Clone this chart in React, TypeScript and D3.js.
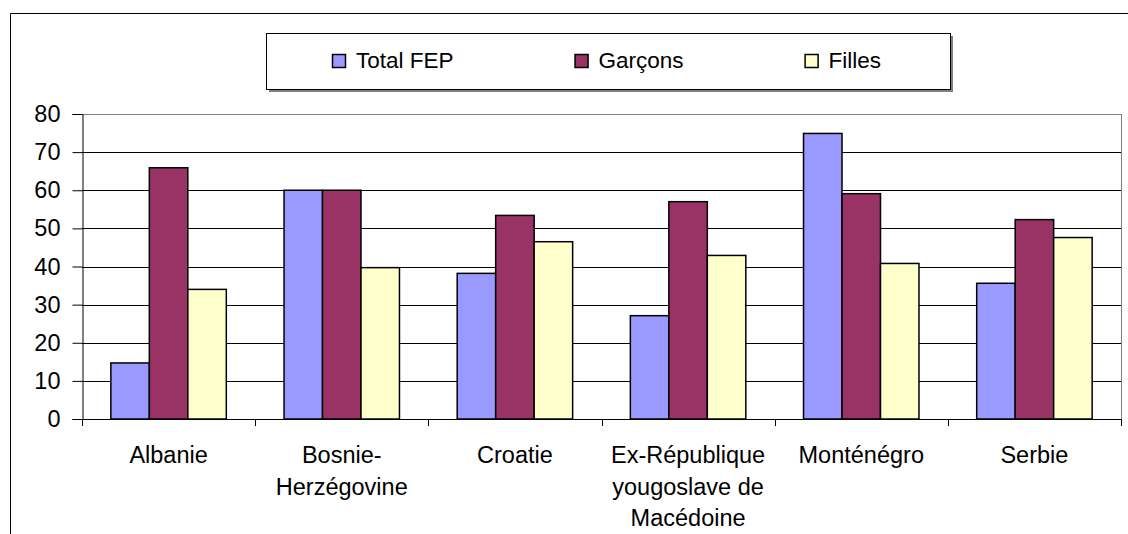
import React, { useEffect, useRef } from "react"
import * as d3 from "d3"

const categories = [
  "Albanie",
  "Bosnie-\nHerzégovine",
  "Croatie",
  "Ex-République\nyougoslave de\nMacédoine",
  "Monténégro",
  "Serbie",
]
const seriesNames = ["Total FEP", "Garçons", "Filles"]
const totalFep = [14.7, 60, 38.2, 27.1, 74.9, 35.6]
const garcons = [65.9, 60, 53.4, 57.0, 59.1, 52.3]
const filles = [34.0, 39.7, 46.5, 42.9, 40.8, 47.6]
const yTicks = [0, 10, 20, 30, 40, 50, 60, 70, 80]
const colors = ["#9999FF", "#993366", "#FFFFCC"]

const W = 1128
const H = 534
const FONT = "'Liberation Sans', Arial, sans-serif"
const FS = 23.5

export default function App() {
  const ref = useRef<SVGSVGElement>(null)

  useEffect(() => {
    const svg = d3.select(ref.current)
    svg.selectAll("*").remove()

    const margin = { top: 114, right: W - 1121, bottom: H - 419, left: 82 }
    const values = [totalFep, garcons, filles]
    const data = categories.map((c, i) => ({
      name: c,
      vals: seriesNames.map((s, j) => ({ key: s, value: values[j][i] })),
    }))

    // outer chart frame (cut off on the right and bottom)
    svg
      .append("path")
      .attr("d", `M10.5,${H + 2}V13.5H${W + 2}`)
      .attr("fill", "none")
      .attr("stroke", "#000")

    const x = d3
      .scaleBand()
      .domain(categories)
      .range([margin.left, W - margin.right])
    const xs = d3
      .scaleBand()
      .domain(seriesNames)
      .range([0, x.bandwidth()])
      .paddingOuter(0.75)
    const y = d3
      .scaleLinear()
      .domain([0, 80])
      .range([H - margin.bottom, margin.top])

    // gridlines
    svg
      .append("g")
      .selectAll("line")
      .data(yTicks.slice(1))
      .join("line")
      .attr("x1", margin.left)
      .attr("x2", W - margin.right)
      .attr("y1", d => Math.round(y(d)) + 0.5)
      .attr("y2", d => Math.round(y(d)) + 0.5)
      .attr("stroke", d => (d === 80 ? "#808080" : "#000"))

    // plot area border on the right
    svg
      .append("line")
      .attr("x1", W - margin.right + 0.5)
      .attr("x2", W - margin.right + 0.5)
      .attr("y1", margin.top)
      .attr("y2", y(0))
      .attr("stroke", "#808080")

    // bars
    svg
      .append("g")
      .selectAll("g")
      .data(data)
      .join("g")
      .attr("transform", d => `translate(${x(d.name)},0)`)
      .selectAll("rect")
      .data(d => d.vals)
      .join("rect")
      .attr("x", d => xs(d.key)!)
      .attr("y", d => y(d.value))
      .attr("width", xs.bandwidth())
      .attr("height", d => y(0) - y(d.value))
      .attr("fill", (d, i) => colors[i])
      .attr("stroke", "#000")
      .attr("stroke-width", 1.5)

    // y axis
    const yAxis = svg
      .append("g")
      .attr("transform", `translate(${margin.left + 0.5},0)`)
      .call(d3.axisLeft(y).tickValues(yTicks).tickSize(10).tickPadding(12))
    yAxis.select(".domain").attr("stroke", "#000")
    yAxis
      .selectAll("text")
      .attr("font-family", FONT)
      .attr("font-size", FS)
      .attr("fill", "#000")

    // x axis
    const boundaries = categories.map(c => x(c)!).concat([W - margin.right])
    const xg = svg.append("g")
    xg.append("line")
      .attr("x1", margin.left)
      .attr("x2", W - margin.right)
      .attr("y1", y(0) + 0.5)
      .attr("y2", y(0) + 0.5)
      .attr("stroke", "#000")
    xg.selectAll("line.tick")
      .data(boundaries)
      .join("line")
      .attr("class", "tick")
      .attr("x1", d => Math.round(d) + 0.5)
      .attr("x2", d => Math.round(d) + 0.5)
      .attr("y1", y(0))
      .attr("y2", y(0) + 7)
      .attr("stroke", "#000")
    xg.selectAll("text")
      .data(categories)
      .join("text")
      .attr("x", d => x(d)! + x.bandwidth() / 2)
      .attr("y", y(0) + 44)
      .attr("text-anchor", "middle")
      .attr("font-family", FONT)
      .attr("font-size", FS)
      .selectAll("tspan")
      .data(d => d.split("\n"))
      .join("tspan")
      .attr("x", function () {
        return (this.parentNode as SVGTextElement).getAttribute("x")
      })
      .attr("dy", (d, i) => (i === 0 ? 0 : 31.5))
      .text(d => d)

    // legend
    const lg = svg.append("g")
    lg.append("rect")
      .attr("x", 269)
      .attr("y", 36)
      .attr("width", 684)
      .attr("height", 56)
      .attr("fill", "#808080")
    lg.append("rect")
      .attr("x", 266.5)
      .attr("y", 33.5)
      .attr("width", 684)
      .attr("height", 56)
      .attr("fill", "#fff")
      .attr("stroke", "#000")
    let lx = 332
    seriesNames.forEach((s, i) => {
      lg.append("rect")
        .attr("x", lx + 0.5)
        .attr("y", 54.5)
        .attr("width", 13)
        .attr("height", 13)
        .attr("fill", colors[i])
        .attr("stroke", "#000")
        .attr("stroke-width", 1.5)
      const t = lg
        .append("text")
        .attr("x", lx + 24)
        .attr("y", 67.5)
        .attr("font-family", FONT)
        .attr("font-size", 22.5)
        .text(s)
      const len = (t.node() as SVGTextElement).getComputedTextLength()
      lx = lx + 24 + len + 121
    })
  }, [])

  return (
    <svg
      ref={ref}
      width={W}
      height={H}
      style={{ position: "absolute", left: 0, top: 0, background: "#fff" }}
    ></svg>
  )
}
